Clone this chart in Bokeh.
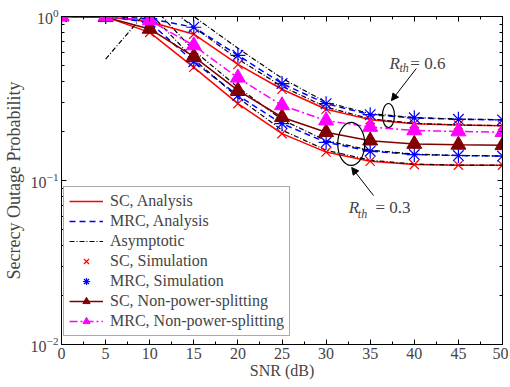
from bokeh.plotting import figure
from bokeh.models import (LogAxis, LinearAxis, FixedTicker, Label, Arrow, NormalHead,
                          Legend, Range1d)
from bokeh.embed import file_html
from bokeh.resources import INLINE

# ---------------- data ----------------
snr = [0, 5, 10, 15, 20, 25, 30, 35, 40, 45, 50]
sc_analysis_06 = [1.0, 1.0, 0.93, 0.78, 0.51, 0.36, 0.272, 0.235, 0.222, 0.218, 0.216]
sc_analysis_03 = [1.0, 0.995, 0.80, 0.49, 0.294, 0.193, 0.149, 0.131, 0.125, 0.124, 0.124]
mrc_analysis_06 = [1.0, 1.0, 0.97, 0.86, 0.58, 0.39, 0.294, 0.252, 0.241, 0.236, 0.234]
mrc_analysis_03 = [1.0, 1.0, 0.92, 0.53, 0.33, 0.222, 0.171, 0.151, 0.144, 0.142, 0.141]
sc_nps = [1.0, 0.99, 0.84, 0.57, 0.354, 0.243, 0.197, 0.175, 0.167, 0.165, 0.164]
mrc_nps = [1.0, 1.0, 0.946, 0.666, 0.423, 0.287, 0.232, 0.212, 0.202, 0.199, 0.197]
asy_mrc_06 = [8.0, 4.0, 1.8, 1.0, 0.64, 0.42, 0.30, 0.256, 0.242, 0.237, 0.235]
asy_sc_06 = [6.0, 3.0, 1.4, 0.86, 0.55, 0.375, 0.28, 0.238, 0.223, 0.218, 0.216]
asy_mrc_03 = [5.0, 2.5, 1.2, 0.62, 0.37, 0.235, 0.175, 0.153, 0.145, 0.142, 0.141]
asy_sc_03 = [4.0, 2.0, 1.05, 0.55, 0.32, 0.203, 0.153, 0.133, 0.126, 0.124, 0.124]
asy_low_snr = [5, 10]
asy_low = [0.55, 1.13]

x_ticks = [0, 5, 10, 15, 20, 25, 30, 35, 40, 45, 50]
x_minor = [2.5 + 5 * i for i in range(10)]
y_ticks = [0.01, 0.1, 1.0]
y_minor = [m * d for d in (0.01, 0.1) for m in range(2, 10)]

FONT = "Liberation Serif"

p = figure(width=508, height=385, y_axis_type="log", output_backend="svg",
           toolbar_location=None, x_range=Range1d(0, 50), y_range=Range1d(0.01, 1.0),
           min_border_left=58, min_border_right=6, min_border_top=16, min_border_bottom=41)
p.grid.visible = False
p.outline_line_color = "black"
p.outline_line_width = 1
p.background_fill_color = "white"
p.border_fill_color = "white"

# axes styling
xt = FixedTicker(ticks=x_ticks, minor_ticks=x_minor)
yt = FixedTicker(ticks=y_ticks, minor_ticks=y_minor)
for ax in p.xaxis:
    ax.ticker = xt
    ax.axis_label = "SNR (dB)"
    ax.axis_label_text_font_size = "16px"
    ax.axis_label_standoff = 0
for ax in p.yaxis:
    ax.ticker = yt
    ax.axis_label = "Secrecy Outage Probability"
    ax.axis_label_text_font_size = "18px"
    ax.axis_label_standoff = 4
for ax in list(p.xaxis) + list(p.yaxis):
    ax.axis_label_text_font = FONT
    ax.axis_label_text_font_style = "normal"
    ax.major_label_text_font = FONT
    ax.major_label_text_font_size = "16px"
    ax.major_label_standoff = 3
    ax.major_tick_in = 5
    ax.major_tick_out = 0
    ax.minor_tick_in = 3
    ax.minor_tick_out = 0
    ax.axis_line_color = "black"
    ax.major_tick_line_color = "black"
    ax.minor_tick_line_color = "black"

# mirrored tick marks on top and right (ticks only, no labels)
def tick_axis(cls, minor, length):
    return cls(ticker=FixedTicker(ticks=[], minor_ticks=minor), axis_line_color="black",
               minor_tick_in=length, minor_tick_out=0, major_tick_in=0, major_tick_out=0,
               minor_tick_line_color="black")

p.add_layout(tick_axis(LinearAxis, x_ticks, 5), "above")
p.add_layout(tick_axis(LinearAxis, x_minor, 3), "above")
p.add_layout(tick_axis(LogAxis, y_ticks, 5), "right")
p.add_layout(tick_axis(LogAxis, y_minor, 3), "right")

# ---------------- curves ----------------
r_sc = p.line(snr, sc_analysis_06, line_color="#ff0000", line_width=1.5)
p.line(snr, sc_analysis_03, line_color="#ff0000", line_width=1.5)
r_mrc = p.line(snr, mrc_analysis_06, line_color="#0000ff", line_width=1.5, line_dash="6 4")
p.line(snr, mrc_analysis_03, line_color="#0000ff", line_width=1.5, line_dash="6 4")
r_asy = p.line(snr, asy_mrc_06, line_color="black", line_width=1.2, line_dash="5 2 1 2")
for a in (asy_sc_06, asy_mrc_03, asy_sc_03):
    p.line(snr, a, line_color="black", line_width=1.2, line_dash="5 2 1 2")
p.line(asy_low_snr, asy_low, line_color="black", line_width=1.2, line_dash="5 2 1 2")

r_scs = p.scatter(snr, sc_analysis_06, marker="x", size=13, line_color="#ff0000", line_width=1.2)
p.scatter(snr, sc_analysis_03, marker="x", size=13, line_color="#ff0000", line_width=1.2)
r_mrcs = p.scatter(snr, mrc_analysis_06, marker="asterisk", size=15, line_color="#0000ff", line_width=1.2)
p.scatter(snr, mrc_analysis_03, marker="asterisk", size=15, line_color="#0000ff", line_width=1.2)

r_scn_l = p.line(snr, sc_nps, line_color="#800000", line_width=1.5)
r_scn_m = p.scatter(snr, sc_nps, marker="triangle", size=15, fill_color="#800000", line_color="#800000")
r_mrcn_l = p.line(snr, mrc_nps, line_color="#ff00ff", line_width=1.5, line_dash="8 3 2 3")
r_mrcn_m = p.scatter(snr, mrc_nps, marker="triangle", size=15, fill_color="#ff00ff", line_color="#ff00ff")

legend = Legend(items=[
    ("SC, Analysis", [r_sc]),
    ("MRC, Analysis", [r_mrc]),
    ("Asymptotic", [r_asy]),
    ("SC, Simulation", [r_scs]),
    ("MRC, Simulation", [r_mrcs]),
    ("SC, Non-power-splitting", [r_scn_l, r_scn_m]),
    ("MRC, Non-power-splitting", [r_mrcn_l, r_mrcn_m]),
], location=(2, 8), label_text_font=FONT, label_text_font_size="16px",
    glyph_width=34, glyph_height=18, label_height=18, spacing=2, padding=5, margin=0,
    label_standoff=7, border_line_color="#555555", border_line_width=1,
    background_fill_alpha=1.0)
p.add_layout(legend)

# ---------------- annotations ----------------
p.ellipse(x=[37.07], y=[0.249], width=12, height=24, width_units="screen",
          height_units="screen", fill_color=None, line_color="black", line_width=1.2)
p.ellipse(x=[32.85], y=[0.167], width=27, height=43, width_units="screen",
          height_units="screen", fill_color=None, line_color="black", line_width=1.2)
p.add_layout(Arrow(x_start=40.23, y_start=0.482, x_end=37.41, y_end=0.307,
                   line_width=1, end=NormalHead(size=7, fill_color="black", line_color="black")))
p.add_layout(Arrow(x_start=35.38, y_start=0.081, x_end=32.9, y_end=0.12,
                   line_width=1, end=NormalHead(size=7, fill_color="black", line_color="black")))

def rlabel(xr, xs, xe, yb, ys, txt):
    p.add_layout(Label(x=xr, y=yb, text="R", text_font=FONT, text_font_style="italic",
                       text_font_size="17px", text_baseline="alphabetic"))
    p.add_layout(Label(x=xs, y=ys, text="th", text_font=FONT, text_font_style="italic",
                       text_font_size="12px", text_baseline="alphabetic"))
    p.add_layout(Label(x=xe, y=yb, text=txt, text_font=FONT,
                       text_font_size="17px", text_baseline="alphabetic"))

rlabel(37.19, 38.31, 39.55, 0.517, 0.482, "= 0.6")
rlabel(32.57, 33.6, 35.6, 0.0688, 0.0629, "= 0.3")

open("out.html", "w").write(file_html(p, INLINE))
